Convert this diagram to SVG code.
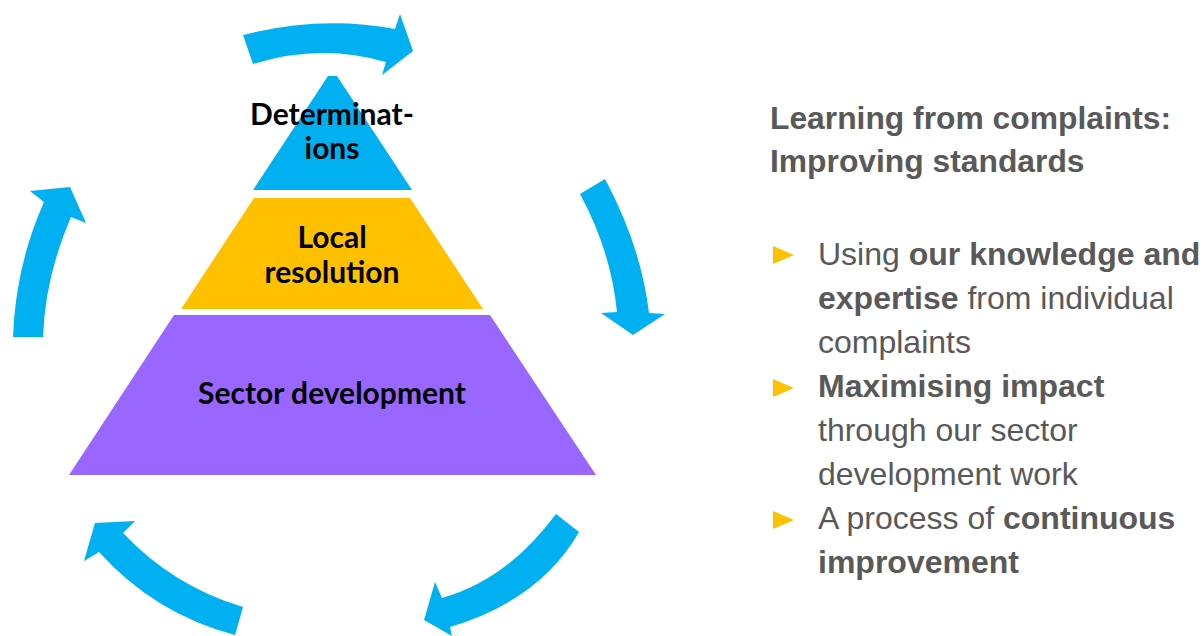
<svg xmlns="http://www.w3.org/2000/svg" width="1203" height="636" viewBox="0 0 1203 636">
  <style>
    .arrow { fill: #00B0F0; }
    .tier-label { font-family: Lato, "Open Sans", sans-serif; font-weight: bold; font-size: 30px; fill: #000; text-anchor: middle; }
    .side { font-family: "Liberation Sans", Arial, sans-serif; font-size: 32px; fill: #595959; }
    .side-title { font-weight: bold; font-size: 31.8px; }
    .b { font-weight: bold; }
    .bullet { fill: #FFC000; }
  </style>
  <rect width="1203" height="636" fill="#ffffff"/>

  <!-- cycle arrows around the pyramid -->
  <g id="connectors">
    <path class="arrow" d="M243,35 Q321,15 395,29 L400,14 L413,51 L382,75 L386,62 Q320,43 253,64 Z"/>
    <path class="arrow" d="M605,179 Q641,246 649,313 L665,314 L633,335 L601,313 L617,312 Q611,251 580,194 Z"/>
    <path class="arrow" d="M556,514 Q507,580 442,598 L435,582 L424,620 L452,636 L450,627 Q540,600 579,532 Z"/>
    <path class="arrow" d="M235,635 Q155,614 99,552 L84,561 L95,523 L135,521 L123,533 Q173,586 243,607 Z"/>
    <path class="arrow" d="M13,337 Q15.5,266 44,202 L30,191 L70,187 L86,223 L71,217 Q45,277 43,337 Z"/>
  </g>

  <!-- pyramid tiers -->
  <g id="tier-determinations">
    <polygon points="328,76 337,76 412,190 253,190" fill="#00B0F0"/>
    <text class="tier-label" x="332" y="125">Determinat-</text>
    <text class="tier-label" x="332" y="159">ions</text>
  </g>
  <g id="tier-local-resolution">
    <polygon points="254,198 410,198 483,309 181,309" fill="#FFC000"/>
    <text class="tier-label" x="332" y="248">Local</text>
    <text class="tier-label" x="332" y="283">resolution</text>
  </g>
  <g id="tier-sector-development">
    <polygon points="174,315 490,315 596,475 69,475" fill="#9966FF"/>
    <text class="tier-label" x="332" y="404">Sector development</text>
  </g>

  <!-- explanatory text -->
  <g id="side-text">
    <text class="side side-title" x="770" y="129">Learning from complaints:</text>
    <text class="side side-title" x="770" y="172">Improving standards</text>

    <polygon class="bullet" points="773,246 773,264 794,255"/>
    <text class="side" x="818" y="265">Using <tspan class="b">our knowledge and</tspan></text>
    <text class="side" x="818" y="309"><tspan class="b">expertise</tspan> from individual</text>
    <text class="side" x="818" y="353">complaints</text>

    <polygon class="bullet" points="773,379 773,397 794,388"/>
    <text class="side" x="818" y="397"><tspan class="b">Maximising impact</tspan></text>
    <text class="side" x="818" y="441">through our sector</text>
    <text class="side" x="818" y="485">development work</text>

    <polygon class="bullet" points="773,511 773,529 794,520"/>
    <text class="side" x="818" y="529">A process of <tspan class="b">continuous</tspan></text>
    <text class="side" x="818" y="573"><tspan class="b">improvement</tspan></text>
  </g>
</svg>
